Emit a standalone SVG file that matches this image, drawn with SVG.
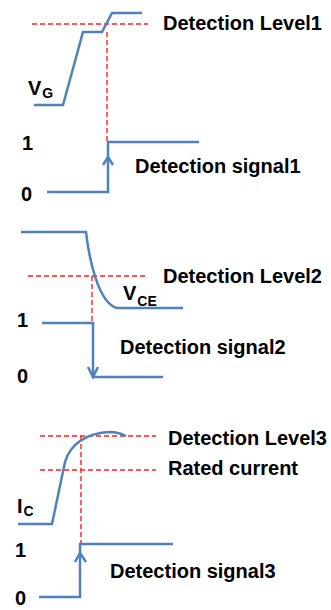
<svg xmlns="http://www.w3.org/2000/svg" width="331" height="610" viewBox="0 0 331 610">
<style>
.w{fill:none;stroke:#4F81BD;stroke-width:2.5;stroke-linejoin:miter}
.d{fill:none;stroke:#FF2020;stroke-width:1.4;stroke-dasharray:5 3}
.t{font-family:"Liberation Sans",Arial,sans-serif;font-weight:bold;font-size:20px;fill:#000}
.s{font-size:14px}
</style>
<rect width="331" height="610" fill="#fff"/>
<g id="connectors">
<path class="d" d="M32,24 H148"/>
<path class="d" d="M107,32 V142"/>
<path class="d" d="M28,276 H147"/>
<path class="d" d="M92,276 V323"/>
<path class="d" d="M40,436 H156"/>
<path class="d" d="M40,470 H156"/>
<path class="d" d="M81,436 V543"/>
</g>
<g id="vg">
<path class="w" d="M34,105 L63,105 L83,32 L102,32 L112,13 L142,13"/>
<text class="t" x="28" y="95">V<tspan class="s" dx="1" dy="3">G</tspan></text>
</g>
<g id="level1"><text class="t" x="163" y="30">Detection Level1</text></g>
<g id="signal1">
<path class="w" d="M47,192 L108,192 L108,142 L199,142"/>
<path class="w" d="M103,165 L108,157 L113,165"/>
<text class="t" x="22" y="150">1</text>
<text class="t" x="21" y="201">0</text>
<text class="t" x="135" y="173">Detection signal1</text>
</g>
<g id="vce">
<path class="w" d="M21,232 L86,232 C89,258 98,303 117,308 L183,308"/>
<text class="t" x="123" y="300">V<tspan class="s" dx="1" dy="6">CE</tspan></text>
</g>
<g id="level2"><text class="t" x="163" y="283">Detection Level2</text></g>
<g id="signal2">
<path class="w" d="M42,323 L93,323 L93,377 L163,377"/>
<path class="w" d="M88,367 L93,377 L98,367"/>
<text class="t" x="17" y="327">1</text>
<text class="t" x="17" y="383">0</text>
<text class="t" x="120" y="354">Detection signal2</text>
</g>
<g id="ic">
<path class="w" d="M18,524 L52,524 L65,462 C70,445 85,433 110,432 C118,432 122,434 126,436"/>
<text class="t" x="17" y="513">I<tspan class="s" dx="1" dy="3">C</tspan></text>
</g>
<g id="level3"><text class="t" x="168" y="445">Detection Level3</text></g>
<g id="rated"><text class="t" x="168" y="475">Rated current</text></g>
<g id="signal3">
<path class="w" d="M39,597 L80,597 L80,544 L173,544"/>
<path class="w" d="M75,562 L80,553 L86,562"/>
<text class="t" x="15" y="557">1</text>
<text class="t" x="15" y="605">0</text>
<text class="t" x="110" y="578">Detection signal3</text>
</g>
</svg>
